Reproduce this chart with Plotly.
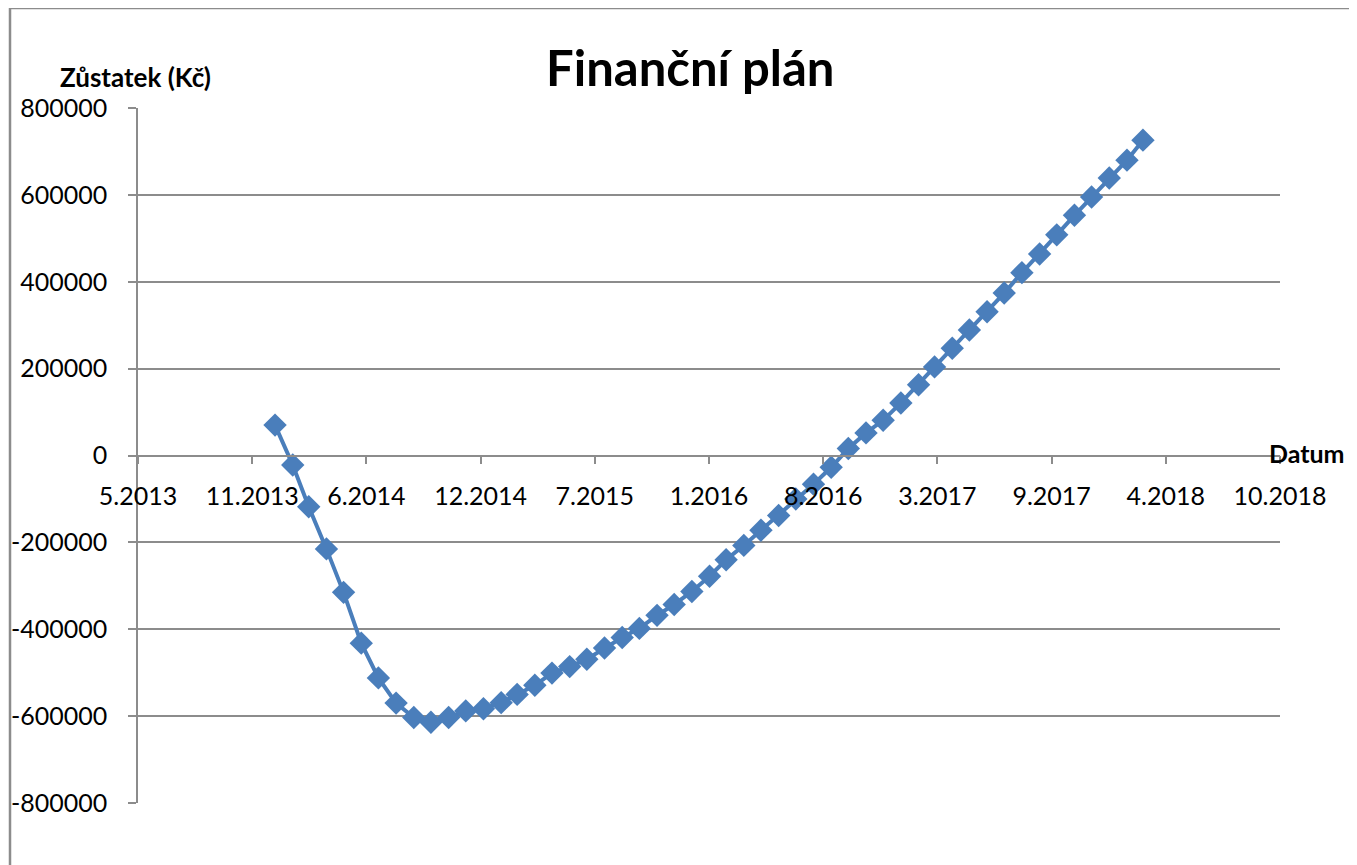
import plotly.graph_objects as go
import pandas as pd

# Data: monthly balance (Kč)
months = [
    "2014-01", "2014-02", "2014-03", "2014-04", "2014-05", "2014-06",
    "2014-07", "2014-08", "2014-09", "2014-10", "2014-11", "2014-12",
    "2015-01", "2015-02", "2015-03", "2015-04", "2015-05", "2015-06",
    "2015-07", "2015-08", "2015-09", "2015-10", "2015-11", "2015-12",
    "2016-01", "2016-02", "2016-03", "2016-04", "2016-05", "2016-06",
    "2016-07", "2016-08", "2016-09", "2016-10", "2016-11", "2016-12",
    "2017-01", "2017-02", "2017-03", "2017-04", "2017-05", "2017-06",
    "2017-07", "2017-08", "2017-09", "2017-10", "2017-11", "2017-12",
    "2018-01", "2018-02", "2018-03",
]
balance = [
    70000, -22000, -118000, -215000, -315000, -432000,
    -512000, -570000, -603000, -614000, -603000, -588000,
    -583000, -569000, -550000, -529000, -501000, -486000,
    -469000, -443000, -419000, -398000, -368000, -343000,
    -313000, -278000, -240000, -207000, -172000, -138000,
    -100000, -66000, -27000, 16000, 52000, 81000,
    121000, 163000, 204000, 247000, 289000, 331000,
    374000, 421000, 464000, 508000, 553000, 595000,
    639000, 680000, 726000,
]

# Axis ticks (Excel date serials, 200-day major unit) and their labels
tick_serials = [41400, 41600, 41800, 42000, 42200, 42400, 42600, 42800, 43000, 43200, 43400]
tick_labels = ["5.2013", "11.2013", "6.2014", "12.2014", "7.2015", "1.2016",
               "8.2016", "3.2017", "9.2017", "4.2018", "10.2018"]
y_ticks = [-800000, -600000, -400000, -200000, 0, 200000, 400000, 600000, 800000]
y_tick_labels = ["-800000", "-600000", "-400000", "-200000", "0",
                 "200000", "400000", "600000", "800000"]

title_text = "Finanční plán"
y_title = "Zůstatek (Kč)"
x_title = "Datum"

excel_epoch = pd.Timestamp("1899-12-30")
tick_dates = [(excel_epoch + pd.Timedelta(days=s)).strftime("%Y-%m-%d") for s in tick_serials]
x_dates = [m + "-01" for m in months]

FONT = "Lato"
COLOR = "#4A7EBB"
GRID = "#8C8C8C"

fig = go.Figure()
fig.add_trace(go.Scatter(
    x=x_dates, y=balance, mode="lines+markers",
    line=dict(color=COLOR, width=4),
    marker=dict(symbol="diamond", size=18, color=COLOR, line=dict(width=0)),
    showlegend=False,
))

OFF = 8  # page offset of the figure in the browser
W, H = 1357 - OFF, 865 - OFF
L, T = 138 - OFF, 108 - OFF
R = W - (1280 - OFF)
B = H - (803 - OFF)

def px(xp):
    return (xp - OFF - L) / (W - L - R)

def py(yp):
    return (H - B - (yp - OFF)) / (H - T - B)

fig.update_layout(
    width=W, height=H,
    margin=dict(l=L, r=R, t=T, b=B, autoexpand=False),
    paper_bgcolor="white", plot_bgcolor="white",
    font=dict(family=FONT, size=24, color="#000000"),
    xaxis=dict(
        type="date",
        range=[tick_dates[0], tick_dates[-1]],
        tickvals=tick_dates, ticktext=tick_labels,
        showgrid=False, zeroline=False,
        showline=True, linecolor=GRID, linewidth=1.5,
        ticks="outside", ticklen=8, tickcolor=GRID, tickwidth=1.5,
        anchor="free", position=0.5, automargin=False,
        tickfont=dict(family=FONT, size=25),
        ticklabelstandoff=11,
    ),
    yaxis=dict(
        range=[-800000, 800000],
        tickvals=y_ticks, ticktext=y_tick_labels,
        showgrid=True, gridcolor=GRID, gridwidth=1.5,
        zeroline=False, automargin=False,
        showline=True, linecolor=GRID, linewidth=1.5,
        ticks="outside", ticklen=8, tickcolor=GRID, tickwidth=1.5,
        tickfont=dict(family=FONT, size=25),
        ticklabelstandoff=16,
    ),
    annotations=[
        dict(text="<b>" + title_text + "</b>", x=px(690), y=py(67), xref="paper", yref="paper",
             xanchor="center", yanchor="middle", showarrow=False,
             font=dict(family=FONT, size=49, color="#000000")),
        dict(text="<b>" + y_title + "</b>", x=px(135), y=py(77), xref="paper", yref="paper",
             xanchor="center", yanchor="middle", showarrow=False,
             font=dict(family=FONT, size=26, color="#000000")),
        dict(text="<b>" + x_title + "</b>", x=px(1307), y=py(453), xref="paper", yref="paper",
             xanchor="center", yanchor="middle", showarrow=False,
             font=dict(family=FONT, size=25, color="#000000")),
    ],
    shapes=[
        dict(type="rect", xref="paper", yref="paper",
             x0=px(10), x1=px(1400), y0=py(900), y1=py(8),
             line=dict(color="#8C8C8C", width=2.5), fillcolor="rgba(0,0,0,0)", layer="below"),
    ],
)

fig.write_html("out.html")
